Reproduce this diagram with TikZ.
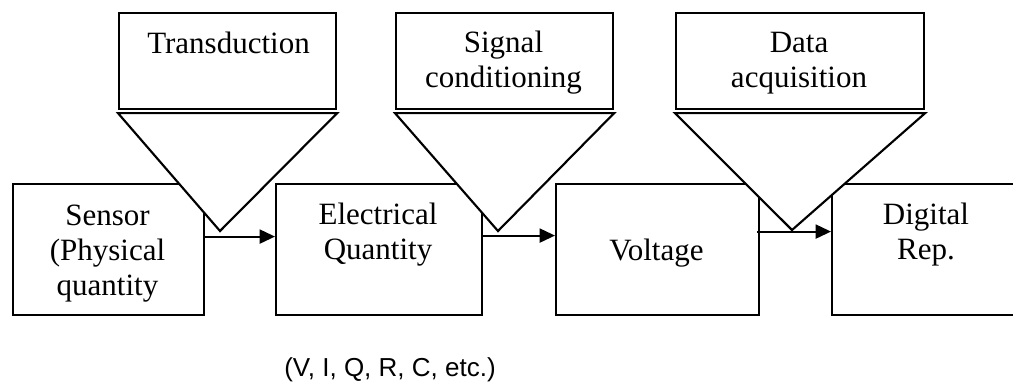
\documentclass[tikz,border=0pt]{standalone}
\usepackage{fontspec}
\setmainfont{Liberation Serif}
\setsansfont{Liberation Sans}
\usetikzlibrary{positioning, arrows.meta}

\tikzset{
  stage/.style={draw, line width=1.6pt, fill=white, anchor=north west, minimum height=98.25pt, inner sep=0pt},
  callout/.style={draw, line width=1.6pt, anchor=north west, minimum height=72pt, inner sep=0pt},
  funnel/.style={draw, line width=1.6pt, fill=white, line join=miter},
  flow/.style={->, line width=1.5pt},
  lbl/.style={align=center, anchor=base, inner sep=0pt, font=\fontsize{23.25}{26.25}\selectfont},
}

\begin{document}
\begin{tikzpicture}[x=0.75pt, y=-0.75pt, >={Triangle[length=11.5pt, width=10.5pt]}]
  \useasboundingbox (0,0) rectangle (1013,383);
  \clip (0,0) rectangle (1013,383);

  % chain of quantities
  \node[stage, minimum width=143.25pt] (sensor) at (12,183) {};
  \node[stage, minimum width=154.5pt] (elec) at (275,183) {};
  \node[stage, minimum width=152.25pt] (volt) at (555,183) {};
  \node[stage, minimum width=142.5pt] (digi) at (831,183) {};

  % processing steps above
  \node[callout, minimum width=162.75pt] (trans) at (118,12) {};
  \node[callout, minimum width=162.75pt] (cond) at (395,12) {};
  \node[callout, minimum width=186pt] (daq) at (675,12) {};

  \coordinate (tip1) at (220,231);
  \coordinate (tip2) at (498,231);
  \coordinate (tip3) at (792,230);

  \draw[funnel] ([yshift=-2.25pt]trans.south west) -- (tip1) -- ([yshift=-2.25pt]trans.south east) -- cycle;
  \draw[funnel] ([yshift=-2.25pt]cond.south west) -- (tip2) -- ([yshift=-2.25pt]cond.south east) -- cycle;
  \draw[funnel] ([yshift=-2.25pt]daq.south west) -- (tip3) -- ([yshift=-2.25pt]daq.south east) -- cycle;

  % arrows between stages
  \draw[flow] ([yshift=9.75pt]sensor.east) -- ([yshift=9.75pt]elec.west);
  \draw[flow] ([yshift=10.5pt]elec.east) -- ([yshift=10.5pt]volt.west);
  \draw[flow] ([xshift=-2.25pt, yshift=13.5pt]volt.east) -- ([yshift=13.5pt]digi.west);

  % texts (base = last line)
  \node[lbl] (transtxt) at (228.5,53) {Transduction};
  \node[lbl] (condtxt) at (503.5,87) {Signal\\conditioning};
  \node[lbl] (daqtxt) at (799,87) {Data\\acquisition};

  \node[lbl] (sensortxt) at (107.5,295) {Sensor\\(Physical\\quantity};
  \node[lbl] (electxt) at (378,259) {Electrical\\Quantity};
  \node[lbl] (volttxt) at (656.5,260) {Voltage};
  \node[lbl] (digitxt) at (926,259) {Digital\\Rep.};

  \node[anchor=base, inner sep=0pt, font=\sffamily\fontsize{19.5}{23}\selectfont] (examples) at (390,376) {(V, I, Q, R, C, etc.)};
\end{tikzpicture}
\end{document}
